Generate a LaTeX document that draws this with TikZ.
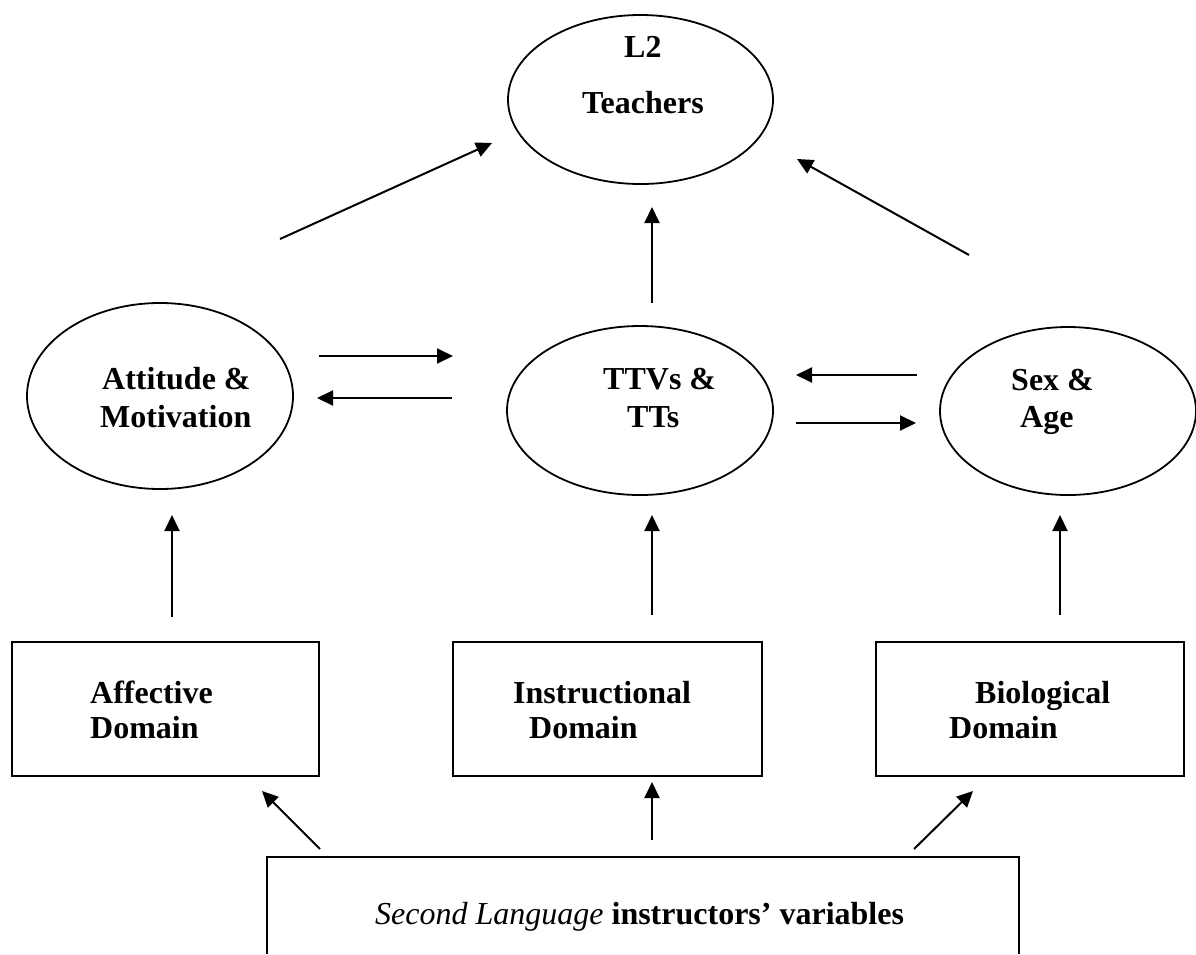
\documentclass[tikz,border=0pt]{standalone}
\usepackage{fontspec}
\setmainfont{Liberation Serif}
\usetikzlibrary{arrows.meta,shapes.geometric}
\begin{document}
\begin{tikzpicture}[x=1pt,y=-1pt,
  oval/.style={draw,ellipse,line width=1.8pt,inner sep=0pt},
  dbox/.style={draw,rectangle,line width=2.2pt,inner sep=0pt},
  lbl/.style={anchor=base west,inner sep=0pt,font=\fontsize{32}{38}\selectfont\bfseries},
  arr/.style={line width=2pt,-{Triangle[length=16pt,width=15pt]}}]
\useasboundingbox (0,0) rectangle (1196,954);
% ellipses
\node[oval,minimum width=265pt,minimum height=169pt] (l2) at (640.5,99.5) {};
\node[oval,minimum width=266pt,minimum height=186pt] (att) at (160,396) {};
\node[oval,minimum width=266pt,minimum height=169pt] (ttv) at (640,410.5) {};
\node[oval,minimum width=256pt,minimum height=168pt] (sex) at (1068,411) {};
% boxes
\node[dbox,minimum width=307pt,minimum height=134pt] (aff) at (165.5,709) {};
\node[dbox,minimum width=309pt,minimum height=134pt] (ins) at (607.5,709) {};
\node[dbox,minimum width=308pt,minimum height=134pt] (bio) at (1030,709) {};
\node[inner sep=0pt,minimum width=752pt,minimum height=97pt] (slv) at (643,905.5) {};
\draw[line width=2.2pt] (slv.south west) -- (slv.north west) -- (slv.north east) -- (slv.south east);
% texts
\node[lbl] (t1a) at (624,57) {L2};
\node[lbl] (t1b) at (582,113) {Teachers};
\node[lbl] (t2a) at (102,389) {Attitude \&};
\node[lbl] (t2b) at (100,427) {Motivation};
\node[lbl] (t3a) at (603,389) {TTVs \&};
\node[lbl] (t3b) at (627,427) {TTs};
\node[lbl] (t4a) at (1011,390) {Sex \&};
\node[lbl] (t4b) at (1020,427) {Age};
\node[lbl] (t5a) at (90,703) {Affective};
\node[lbl] (t5b) at (90,738) {Domain};
\node[lbl] (t6a) at (513,703) {Instructional};
\node[lbl] (t6b) at (529,738) {Domain};
\node[lbl] (t7a) at (975,703) {Biological};
\node[lbl] (t7b) at (949,738) {Domain};
\node[lbl] (t8) at (375,924) {{\mdseries\itshape Second Language} instructors’ variables};
% arrow end points
\coordinate (p1s) at (280,239);  \coordinate (p1e) at (492,143);
\coordinate (p2s) at (969,255);  \coordinate (p2e) at (797,159);
\coordinate (p3s) at (652,303);  \coordinate (p3e) at (652,207);
\coordinate (p4s) at (319,356);  \coordinate (p4e) at (453,356);
\coordinate (p5s) at (452,398);  \coordinate (p5e) at (317,398);
\coordinate (p6s) at (917,375);  \coordinate (p6e) at (796,375);
\coordinate (p7s) at (796,423);  \coordinate (p7e) at (916,423);
\coordinate (p8s) at (172,617);  \coordinate (p8e) at (172,515);
\coordinate (p9s) at (652,615);  \coordinate (p9e) at (652,515);
\coordinate (p10s) at (1060,615); \coordinate (p10e) at (1060,515);
\coordinate (p11s) at (320,849); \coordinate (p11e) at (262,791);
\coordinate (p12s) at (652,840); \coordinate (p12e) at (652,782);
\coordinate (p13s) at (914,849); \coordinate (p13e) at (973,791);
\foreach \i in {1,...,13} \draw[arr] (p\i s) -- (p\i e);
\end{tikzpicture}
\end{document}
